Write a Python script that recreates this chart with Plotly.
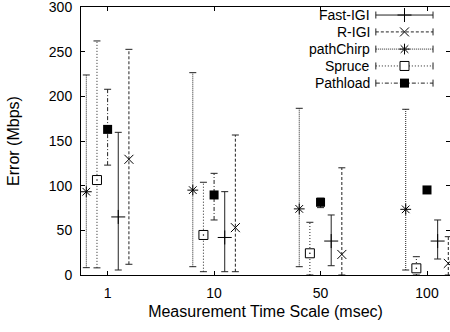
import plotly.graph_objects as go

categories = ["1", "10", "50", "100"]
series_names = ["Fast-IGI", "R-IGI", "pathChirp", "Spruce", "Pathload"]

fast_igi_mean = [65, 42, 38, 38]
fast_igi_lo = [5.6, 3.7, 10.4, 17.9]
fast_igi_hi = [159.7, 93.3, 67.2, 61.6]

r_igi_mean = [129.5, 53, 23, 13]
r_igi_lo = [12, 3.7, 0, 0]
r_igi_hi = [252.6, 156.7, 120, 42.9]

pathchirp_mean = [93.2, 95, 74, 73.5]
pathchirp_lo = [8.2, 9.3, 9.3, 5.6]
pathchirp_hi = [223.9, 226.5, 186.6, 185.5]

spruce_mean = [106.3, 44.8, 24.3, 7.5]
spruce_lo = [8, 3.7, 0, 0]
spruce_hi = [262, 103.8, 59, 20.5]

pathload_mean = [163, 89.6, 81.4, 95.2]
pathload_lo = [123, 61.6, 75.4, 93]
pathload_hi = [207.9, 113.8, 86, 97.5]

y_ticks = [0, 50, 100, 150, 200, 250, 300]

FONT = "Liberation Sans, Arial, Helvetica, sans-serif"
FS = 14
TFS = 16
LINE_COL = "#222222"

data = {
    "Fast-IGI": (fast_igi_mean, fast_igi_lo, fast_igi_hi),
    "R-IGI": (r_igi_mean, r_igi_lo, r_igi_hi),
    "pathChirp": (pathchirp_mean, pathchirp_lo, pathchirp_hi),
    "Spruce": (spruce_mean, spruce_lo, spruce_hi),
    "Pathload": (pathload_mean, pathload_lo, pathload_hi),
}
offsets = {"pathChirp": -0.2, "Spruce": -0.1, "Pathload": 0.0, "Fast-IGI": 0.1, "R-IGI": 0.2}
dashes = {"Fast-IGI": "solid", "R-IGI": "3px,2px", "pathChirp": "1px,1px",
          "Spruce": "1px,2px", "Pathload": "4px,2px,1px,2px"}
symbols = {"Fast-IGI": "cross-thin", "R-IGI": "x-thin", "pathChirp": "asterisk",
           "Spruce": "square", "Pathload": "square"}
sizes = {"Fast-IGI": 10, "R-IGI": 9, "pathChirp": 9, "Spruce": 9, "Pathload": 9}

fig = go.Figure()

def marker_for(name):
    if name == "Spruce":
        return dict(symbol="square", size=sizes[name], color="white",
                    line=dict(color="black", width=1))
    if name == "Pathload":
        return dict(symbol="square", size=sizes[name], color="black",
                    line=dict(color="black", width=0))
    return dict(symbol=symbols[name], size=sizes[name], color="black",
                line=dict(color="black", width=1))

for name in series_names:
    mean, lo, hi = data[name]
    xs = [i + 1 + offsets[name] for i in range(len(categories))]
    wx, wy = [], []
    for x, l, h in zip(xs, lo, hi):
        wx += [x, x, None]
        wy += [l, h, None]
    fig.add_trace(go.Scatter(x=wx, y=wy, mode="lines", showlegend=False, hoverinfo="skip",
                             line=dict(color=LINE_COL, width=1, dash=dashes[name])))
    fig.add_trace(go.Scatter(x=xs + xs, y=lo + hi, mode="markers", showlegend=False,
                             hoverinfo="skip",
                             marker=dict(symbol="line-ew", size=5, color=LINE_COL,
                                         line=dict(color=LINE_COL, width=1))))
    fig.add_trace(go.Scatter(x=xs, y=mean, mode="markers", showlegend=False,
                             marker=marker_for(name)))
    if name == "Spruce":
        fig.add_trace(go.Scatter(x=xs, y=mean, mode="markers", showlegend=False,
                                 hoverinfo="skip",
                                 marker=dict(symbol="circle", size=1.5, color="black")))

# custom legend on overlay axes (fractions of plot area)
leg_x0, leg_x1, leg_xm = 0.799, 0.954, 0.8767
leg_text_x = 0.789
leg_rows = [0.970, 0.907, 0.843, 0.780, 0.716]
for name, ly in zip(series_names, leg_rows):
    fig.add_trace(go.Scatter(x=[leg_x0, leg_x1], y=[ly, ly], xaxis="x2", yaxis="y2",
                             mode="lines+markers", showlegend=False, hoverinfo="skip",
                             line=dict(color=LINE_COL, width=1, dash=dashes[name]),
                             marker=dict(symbol="line-ns", size=5, color=LINE_COL,
                                         line=dict(color=LINE_COL, width=1))))
    fig.add_trace(go.Scatter(x=[leg_xm], y=[ly], xaxis="x2", yaxis="y2", mode="markers",
                             showlegend=False, hoverinfo="skip", marker=marker_for(name)))
    fig.add_annotation(x=leg_text_x, y=ly, xref="x2", yref="y2", text=name,
                       showarrow=False, xanchor="right", yanchor="middle",
                       font=dict(family=FONT, size=FS, color="black"))

# invisible trace for right tick axis
fig.add_trace(go.Scatter(x=[1], y=[0], yaxis="y3", mode="markers", showlegend=False,
                         hoverinfo="skip", marker=dict(opacity=0)))

fig.update_layout(
    width=450, height=332,
    margin=dict(l=81, r=0, t=7, b=57),
    paper_bgcolor="white", plot_bgcolor="white",
    font=dict(family=FONT, size=FS, color="black"),
    showlegend=False,
    xaxis=dict(range=[0.75, 4.216], tickvals=[1, 2, 3, 4], ticktext=categories,
               ticks="inside", ticklen=4, tickcolor="black", showline=True,
               linecolor="black", linewidth=1, mirror="ticks", showgrid=False,
               zeroline=False, ticklabelstandoff=5,
               title=dict(text="Measurement Time Scale (msec)", standoff=6,
                          font=dict(family=FONT, size=TFS, color="black")),
               tickfont=dict(family=FONT, size=FS, color="black")),
    yaxis=dict(range=[0, 300], tickvals=y_ticks, ticks="inside", ticklen=4,
               tickcolor="black", showline=True, linecolor="black", linewidth=1,
               showgrid=False, zeroline=False, ticklabelstandoff=5,
               ticklabeloverflow="allow",
               title=dict(text="Error (Mbps)", standoff=25,
                          font=dict(family=FONT, size=TFS, color="black")),
               tickfont=dict(family=FONT, size=FS, color="black")),
    yaxis3=dict(range=[0, 300], tickvals=y_ticks, overlaying="y", side="right",
                anchor="x", ticks="inside", ticklen=4, tickcolor="black",
                showticklabels=False, showline=False, showgrid=False, zeroline=False),
    xaxis2=dict(range=[0, 1], overlaying="x", visible=False, fixedrange=True),
    yaxis2=dict(range=[0, 1], overlaying="y", visible=False, fixedrange=True),
)

fig.write_html("out.html")
